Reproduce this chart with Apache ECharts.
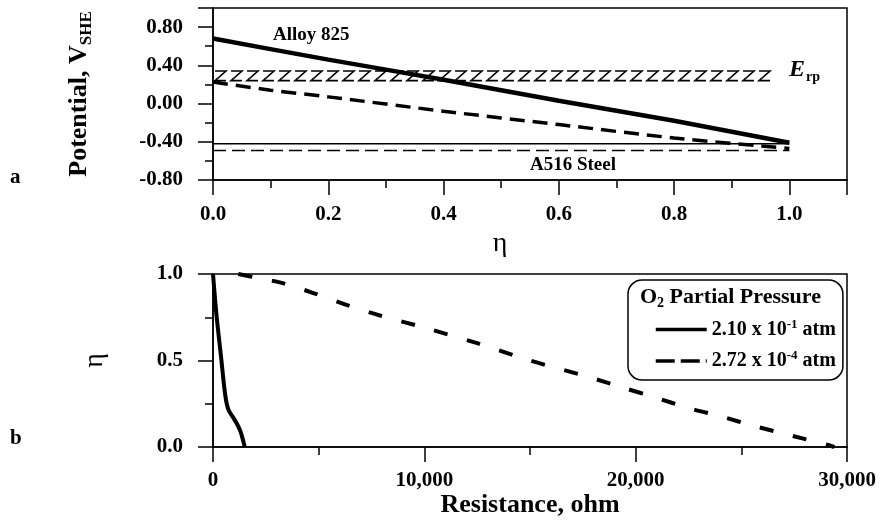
<!DOCTYPE html>
<html>
<head>
<meta charset="utf-8">
<script src="https://cdn.jsdelivr.net/npm/echarts@6/dist/echarts.min.js"></script>
<style>
html,body{margin:0;padding:0;background:#fff;}
#main{width:884px;height:525px;}
</style>
</head>
<body>
<div id="main"></div>
<script>
// ---------- Panel a: potential vs eta ----------
const etaAlloyHigh = [0, 0.2, 0.4, 0.6, 0.8, 1.0];
const potAlloyHigh = [0.68, 0.46, 0.25, 0.03, -0.18, -0.41];
const etaAlloyLow = [0, 0.1, 0.2, 0.4, 0.6, 0.8, 1.0];
const potAlloyLow = [0.225, 0.14, 0.07, -0.08, -0.22, -0.36, -0.47];
const etaSteel = [0, 1.0];
const potSteelHigh = [-0.42, -0.42];
const potSteelLow = [-0.49, -0.49];
const erpEtaRange = [0, 0.985];
const erpPotRange = [0.24, 0.34];

// ---------- Panel b: eta vs resistance ----------
const resHigh = [0, 100, 175, 290, 400, 500, 580, 650, 750, 960, 1150, 1300, 1420, 1500];
const etaHigh = [1.0, 0.85, 0.75, 0.62, 0.5, 0.38, 0.3, 0.25, 0.21, 0.17, 0.13, 0.09, 0.04, 0.0];
const resLow = [1200, 2000, 3200, 4750, 6350, 7900, 10000, 12500, 15000, 17740, 19480, 20840, 22500, 24080, 25650, 27400, 29150, 29400];
const etaLow = [1.0, 0.98, 0.95, 0.89, 0.82, 0.76, 0.69, 0.6, 0.5, 0.406, 0.34, 0.29, 0.225, 0.175, 0.12, 0.065, 0.01, 0.0];

const nameHigh = '2.10 x 10⁻¹ atm';
const nameLow = '2.72 x 10⁻⁴ atm';

const FF = '"Liberation Serif", "Times New Roman", serif';
const BLK = '#000';

function zip(xs, ys) { return xs.map((x, i) => [x, ys[i]]); }

const labelStyle = { color: BLK, fontFamily: FF, fontWeight: 'bold', fontSize: 21 };
const axLine = { show: true, onZero: false, lineStyle: { color: BLK, width: 1.5 } };
const axTick = { show: true, inside: false, length: 15, lineStyle: { color: BLK, width: 1.5 } };
const minTick = { show: true, splitNumber: 2, length: 8, lineStyle: { color: BLK, width: 1.5 } };

const chart = echarts.init(document.getElementById('main'), null, { renderer: 'canvas' });

const option = {
  backgroundColor: '#fff',
  animation: false,
  grid: [
    { left: 213, top: 8, width: 634, height: 172, show: true, borderColor: BLK, borderWidth: 1.5, backgroundColor: 'transparent' },
    { left: 213, top: 274, width: 634, height: 173, show: true, borderColor: BLK, borderWidth: 1.5, backgroundColor: 'transparent' }
  ],
  xAxis: [
    {
      gridIndex: 0, type: 'value', min: 0, max: 1.1, interval: 0.2,
      axisLine: axLine, axisTick: axTick, minorTick: minTick,
      splitLine: { show: false }, minorSplitLine: { show: false },
      axisLabel: Object.assign({}, labelStyle, { margin: 24, showMaxLabel: false,
        formatter: v => (v > 1.05 ? '' : v.toFixed(1)) }),
      name: 'η', nameLocation: 'middle', nameGap: 50,
      nameTextStyle: { color: BLK, fontFamily: FF, fontSize: 28, padding: [0, 60, 0, 0] }
    },
    {
      gridIndex: 1, type: 'value', min: 0, max: 30000, interval: 10000,
      axisLine: axLine, axisTick: axTick, minorTick: minTick,
      splitLine: { show: false }, minorSplitLine: { show: false },
      axisLabel: Object.assign({}, labelStyle, { margin: 23,
        formatter: v => v.toLocaleString('en-US') }),
      name: 'Resistance, ohm', nameLocation: 'middle', nameGap: 45,
      nameTextStyle: { color: BLK, fontFamily: FF, fontSize: 26, fontWeight: 'bold' }
    }
  ],
  yAxis: [
    {
      gridIndex: 0, type: 'value', min: -0.8, max: 1.0, interval: 0.4,
      axisLine: axLine, axisTick: axTick, minorTick: minTick,
      splitLine: { show: false }, minorSplitLine: { show: false },
      axisLabel: Object.assign({}, labelStyle, { margin: 30, showMaxLabel: false,
        formatter: v => (v > 0.9 ? '' : v.toFixed(2)) }),
      name: '{m|Potential, V}{s|SHE}', nameLocation: 'middle', nameGap: 118,
      nameTextStyle: {
        color: BLK, fontFamily: FF, fontWeight: 'bold', fontSize: 26,
        rich: {
          m: { color: BLK, fontFamily: FF, fontWeight: 'bold', fontSize: 26 },
          s: { color: BLK, fontFamily: FF, fontWeight: 'bold', fontSize: 17, padding: [14, 0, 0, 0] }
        }
      }
    },
    {
      gridIndex: 1, type: 'value', min: 0, max: 1.0, interval: 0.5,
      axisLine: axLine, axisTick: axTick, minorTick: minTick,
      splitLine: { show: false }, minorSplitLine: { show: false },
      axisLabel: Object.assign({}, labelStyle, { margin: 30,
        formatter: v => v.toFixed(1) }),
      name: 'η', nameLocation: 'middle', nameGap: 104,
      nameTextStyle: { color: BLK, fontFamily: FF, fontSize: 28 }
    }
  ],
  legend: {
    data: [
      { name: nameHigh },
      { name: nameLow, lineStyle: { type: [19, 6] } }
    ],
    orient: 'vertical',
    left: 628, top: 280,
    padding: [38, 7, 9, 26],
    itemGap: 10, itemWidth: 51, itemHeight: 20,
    borderColor: BLK, borderWidth: 1.5, borderRadius: 14,
    backgroundColor: '#fff',
    selectedMode: false,
    lineStyle: { width: 3.5 },
    itemStyle: { color: 'transparent', borderWidth: 0, opacity: 0 },
    formatter: function (name) {
      if (name === nameHigh) return '{n|2.10 x 10}{p|-1}{n| atm}';
      return '{n|2.72 x 10}{p|-4}{n| atm}';
    },
    textStyle: {
      color: BLK, fontFamily: FF, fontWeight: 'bold', fontSize: 20,
      rich: {
        n: { color: BLK, fontFamily: FF, fontWeight: 'bold', fontSize: 20 },
        p: { color: BLK, fontFamily: FF, fontWeight: 'bold', fontSize: 13, padding: [0, 0, 10, 0] }
      }
    }
  },
  series: [
    {
      name: 'E_rp band', type: 'custom', xAxisIndex: 0, yAxisIndex: 0,
      data: [[erpEtaRange[0], erpEtaRange[1], erpPotRange[0], erpPotRange[1]]],
      renderItem: function (params, api) {
        const p0 = api.coord([api.value(0), api.value(3)]);
        const p1 = api.coord([api.value(1), api.value(2)]);
        const top = p0[1], bot = p1[1];
        const period = 16, w = 11;
        const children = [];
        for (let x = p0[0] + 2; x + w <= p1[0] + 0.5; x += period) {
          children.push({
            type: 'polyline',
            shape: { points: [[x, top], [x + w, top], [x, bot], [x + w, bot]] },
            style: { stroke: BLK, lineWidth: 1.6, fill: null }
          });
        }
        return { type: 'group', children: children };
      },
      z: 2
    },
    {
      name: 'Alloy 825 high O2', type: 'line', xAxisIndex: 0, yAxisIndex: 0,
      data: zip(etaAlloyHigh, potAlloyHigh), showSymbol: false, symbol: 'none', smooth: 0.2,
      lineStyle: { color: BLK, width: 4.5 }, z: 3
    },
    {
      name: 'Alloy 825 low O2', type: 'line', xAxisIndex: 0, yAxisIndex: 0,
      data: zip(etaAlloyLow, potAlloyLow), showSymbol: false, symbol: 'none', smooth: 0.3,
      lineStyle: { color: BLK, width: 3.5, type: [15, 8] }, z: 3
    },
    {
      name: 'A516 high O2', type: 'line', xAxisIndex: 0, yAxisIndex: 0,
      data: zip(etaSteel, potSteelHigh), showSymbol: false, symbol: 'none',
      lineStyle: { color: BLK, width: 1.5 }, z: 3
    },
    {
      name: 'A516 low O2', type: 'line', xAxisIndex: 0, yAxisIndex: 0,
      data: zip(etaSteel, potSteelLow), showSymbol: false, symbol: 'none',
      lineStyle: { color: BLK, width: 1.5, type: [13, 6] }, z: 3
    },
    {
      name: nameHigh, type: 'line', xAxisIndex: 1, yAxisIndex: 1,
      data: zip(resHigh, etaHigh), showSymbol: false, symbol: 'none', smooth: 0.3,
      lineStyle: { color: BLK, width: 4 }, itemStyle: { color: BLK }, z: 3
    },
    {
      name: nameLow, type: 'line', xAxisIndex: 1, yAxisIndex: 1,
      data: zip(resLow, etaLow), showSymbol: false, symbol: 'none', smooth: 0.3,
      lineStyle: { color: BLK, width: 4, type: [14, 20] }, itemStyle: { color: BLK }, z: 3
    }
  ],
  graphic: [
    { type: 'text', left: 273, top: 26, style: { text: 'Alloy 825', fill: BLK, font: 'bold 19px ' + FF } },
    { type: 'text', left: 530, top: 156, style: { text: 'A516 Steel', fill: BLK, font: 'bold 19px ' + FF } },
    { type: 'text', left: 789, top: 58, style: {
        text: '{e|E}{s|rp}', fill: BLK,
        rich: {
          e: { fontFamily: FF, fontWeight: 'bold', fontStyle: 'italic', fontSize: 24, fill: BLK },
          s: { fontFamily: FF, fontWeight: 'bold', fontSize: 14, padding: [14, 0, 0, 1], fill: BLK }
        } } },
    { type: 'text', left: 10, top: 167, style: { text: 'a', fill: BLK, font: 'bold 21px ' + FF } },
    { type: 'text', left: 10, top: 428, style: { text: 'b', fill: BLK, font: 'bold 21px ' + FF } },
    { type: 'text', left: 640, top: 286, z: 100, style: {
        text: '{m|O}{s|2}{m| Partial Pressure}', fill: BLK,
        rich: {
          m: { fontFamily: FF, fontWeight: 'bold', fontSize: 22, fill: BLK },
          s: { fontFamily: FF, fontWeight: 'bold', fontSize: 14, padding: [12, 0, 0, 0], fill: BLK }
        } } }
  ]
};

chart.setOption(option);
</script>
</body>
</html>
